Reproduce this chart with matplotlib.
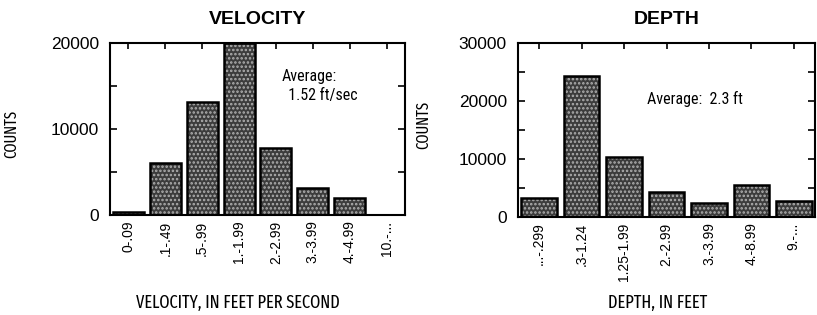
import matplotlib
matplotlib.use("Agg")
import matplotlib.pyplot as plt

vel_labels = ["0-.09", ".1-.49", ".5-.99", "1.-1.99", "2.-2.99", "3.-3.99", "4.-4.99", "10.-..."]
vel_counts = [300, 6100, 13100, 20000, 7800, 3100, 2000, 0]

dep_labels = ["...-.299", ".3-1.24", "1.25-1.99", "2.-2.99", "3.-3.99", "4.-8.99", "9.-..."]
dep_counts = [3300, 24300, 10300, 4300, 2350, 5450, 2750]

plt.rcParams['font.family'] = ['Liberation Sans', 'DejaVu Sans']
narrow = ['Roboto Condensed', 'Archivo Narrow', 'DejaVu Sans']
xnarrow = ['Fira Sans Extra Condensed', 'Roboto Condensed', 'DejaVu Sans']
plt.rcParams['hatch.linewidth'] = 1.2

fig = plt.figure(figsize=(8.17, 3.15), dpi=100)
ax1 = fig.add_axes([110/817, 1-215/315, 295/817, 172/315])
ax2 = fig.add_axes([518/817, 1-217/315, 297/817, 174/315])

def style(ax, labels, counts, ymax, title, xlabel):
    x = list(range(len(labels)))
    ax.bar(x, counts, width=0.84, color='#3c3c3c', edgecolor='#b0b0b0', linewidth=0,
           hatch='....', zorder=2)
    ax.bar(x, counts, width=0.84, fill=False, edgecolor='black', linewidth=1.8, zorder=3)
    ax.set_xlim(-0.5, len(labels) - 0.5)
    ax.set_ylim(0, ymax)
    ax.set_yticks(range(0, ymax + 1, 10000))
    ax.set_yticks(range(0, ymax + 1, 5000), minor=True)
    ax.tick_params(axis='y', which='both', direction='in', left=True, right=True,
                   length=5, width=1.2, labelsize=12.5, pad=8)
    ax.set_xticks(x)
    ax.set_xticklabels(labels, rotation=90, fontsize=10, family=['Liberation Sans', 'DejaVu Sans'])
    ax.tick_params(axis='x', direction='in', top=True, bottom=False, length=4, width=1.2, pad=4)
    for s in ax.spines.values():
        s.set_linewidth(1.5)
        s.set_zorder(4)
    ax.set_title(title, fontsize=14, fontweight='bold', pad=14)
    ax.set_ylabel("COUNTS", fontsize=11.5, family=xnarrow)
    ax.set_xlabel(xlabel, fontsize=12.8, family=xnarrow)

style(ax1, vel_labels, vel_counts, 20000, "VELOCITY", "VELOCITY, IN FEET PER SECOND")
style(ax2, dep_labels, dep_counts, 30000, "DEPTH", "DEPTH, IN FEET")
ax1.yaxis.set_label_coords(-0.305, 0.47)
ax2.yaxis.set_label_coords(-0.29, 0.53)
ax1.xaxis.set_label_coords(0.435, -0.46)
ax2.xaxis.set_label_coords(0.47, -0.44)

ax1.text(4.15, 17000, "Average:\n  1.52 ft/sec", fontsize=11.5, family=narrow, va='top', ha='left',
         linespacing=1.35)
ax2.text(2.55, 20300, "Average:  2.3 ft", fontsize=11.5, family=narrow, va='center', ha='left')

fig.savefig("out.png", dpi=100)
